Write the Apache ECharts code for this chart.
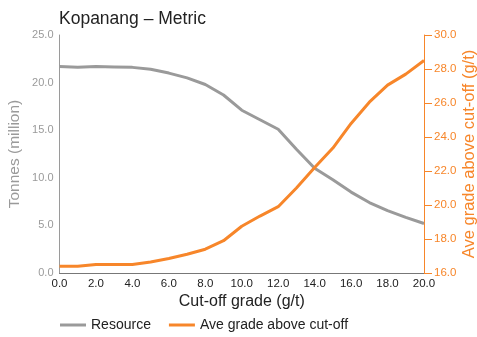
<!DOCTYPE html>
<html>
<head>
<meta charset="utf-8">
<script src="https://cdn.jsdelivr.net/npm/echarts@6/dist/echarts.min.js"></script>
<style>
  html, body { margin: 0; padding: 0; background: #fff; }
  #chart { width: 477px; height: 337px; }
</style>
</head>
<body>
<div id="chart"></div>
<script>
// Cut-off grade (g/t)
const cutoffGrades = [0, 1, 2, 3, 4, 5, 6, 7, 8, 9, 10, 11, 12, 13, 14, 15, 16, 17, 18, 19, 20];
// Resource tonnes above cut-off (million)
const resourceTonnes = [21.7, 21.6, 21.7, 21.65, 21.6, 21.4, 21.0, 20.5, 19.8, 18.7, 17.1, 16.1, 15.1, 13.0, 11.0, 9.8, 8.5, 7.4, 6.55, 5.85, 5.2];
// Average grade above cut-off (g/t)
const aveGrade = [16.4, 16.4, 16.5, 16.5, 16.5, 16.65, 16.85, 17.1, 17.4, 17.9, 18.75, 19.35, 19.9, 21.0, 22.2, 23.35, 24.8, 26.05, 27.05, 27.7, 28.5];

const GRAY = '#9a9a9a';
const ORANGE = '#f7862a';
const FONT = '"Liberation Sans", Arial, sans-serif';

const chart = echarts.init(document.getElementById('chart'), null, { renderer: 'canvas' });

chart.setOption({
  animation: false,
  textStyle: { fontFamily: FONT },
  title: {
    text: 'Kopanang \u2013 Metric',
    left: 54, top: 5,
    textStyle: { fontFamily: FONT, fontSize: 17.5, fontWeight: 'normal', color: '#222' }
  },
  legend: {
    left: 55, bottom: 0,
    itemWidth: 26, itemHeight: 3, itemGap: 18,
    icon: 'rect',
    textStyle: { fontFamily: FONT, fontSize: 14, color: '#222' },
    data: ['Resource', 'Ave grade above cut-off']
  },
  grid: { left: 59.5, right: 53, top: 35, bottom: 64, outerBoundsMode: 'none', containLabel: false },
  xAxis: {
    type: 'value',
    min: 0, max: 20, interval: 2,
    name: 'Cut-off grade (g/t)',
    nameLocation: 'middle', nameGap: 21, nameMoveOverlap: false,
    nameTextStyle: { fontFamily: FONT, fontSize: 16, color: '#222' },
    axisLine: { lineStyle: { color: '#777', width: 1 } },
    axisTick: { show: false },
    splitLine: { show: false },
    axisLabel: { color: '#222', fontSize: 11.5, margin: 5, formatter: v => v.toFixed(1) }
  },
  yAxis: [
    {
      type: 'value',
      min: 0, max: 25, interval: 5,
      name: 'Tonnes (million)',
      nameLocation: 'middle', nameGap: 37, nameMoveOverlap: false,
      nameTextStyle: { fontFamily: FONT, fontSize: 15.5, color: GRAY },
      axisLine: { show: true, lineStyle: { color: GRAY, width: 1 } },
      axisTick: { show: false },
      splitLine: { show: false },
      axisLabel: { color: GRAY, fontSize: 11, margin: 6, formatter: v => v.toFixed(1) }
    },
    {
      type: 'value',
      position: 'right',
      min: 16, max: 30, interval: 2,
      name: 'Ave grade above cut-off (g/t)',
      nameLocation: 'middle', nameGap: 37, nameRotate: 90, nameMoveOverlap: false,
      nameTextStyle: { fontFamily: FONT, fontSize: 16.5, color: ORANGE },
      axisLine: { show: true, lineStyle: { color: ORANGE, width: 1 } },
      axisTick: { show: true, length: 8, lineStyle: { color: ORANGE } },
      splitLine: { show: false },
      axisLabel: { color: ORANGE, fontSize: 11.5, margin: 10, formatter: v => v.toFixed(1) }
    }
  ],
  series: [
    {
      name: 'Resource',
      type: 'line',
      yAxisIndex: 0,
      showSymbol: false,
      lineStyle: { color: GRAY, width: 3 },
      itemStyle: { color: GRAY },
      data: cutoffGrades.map((g, i) => [g, resourceTonnes[i]])
    },
    {
      name: 'Ave grade above cut-off',
      type: 'line',
      yAxisIndex: 1,
      showSymbol: false,
      lineStyle: { color: ORANGE, width: 3 },
      itemStyle: { color: ORANGE },
      data: cutoffGrades.map((g, i) => [g, aveGrade[i]])
    }
  ]
});
</script>
</body>
</html>
